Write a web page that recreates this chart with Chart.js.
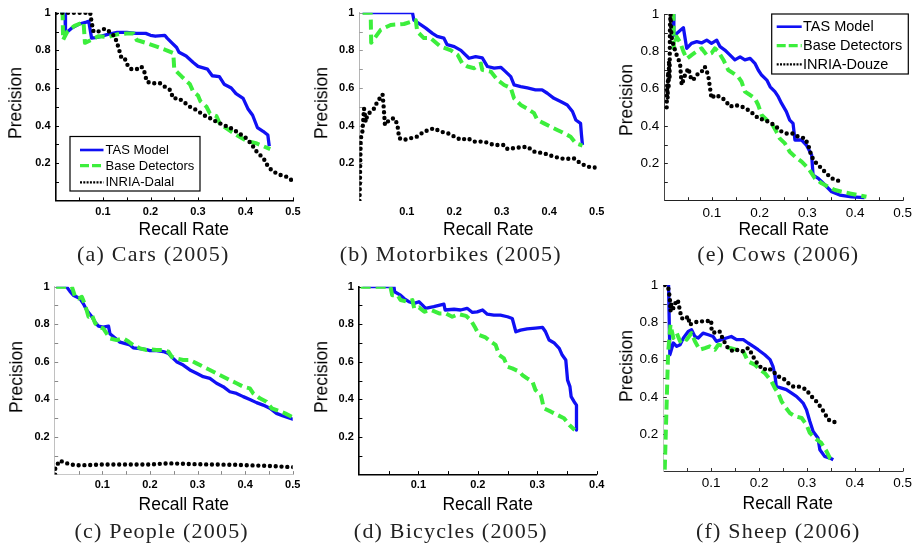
<!DOCTYPE html>
<html><head><meta charset="utf-8">
<script src="https://cdn.jsdelivr.net/npm/chart.js@4.4.1/dist/chart.umd.min.js"></script>
<style>
html,body{margin:0;padding:0;background:#fff;}
#wrap{position:relative;width:914px;height:549px;overflow:hidden;background:#fff;}
canvas{position:absolute;}
.t{position:absolute;white-space:nowrap;transform:translate(-50%,-50%);font-family:"Liberation Sans",Arial,sans-serif;font-size:17.5px;color:#000;line-height:1;}
.yt{transform:translate(-50%,-50%) rotate(-90deg);}
.cap{position:absolute;white-space:nowrap;transform:translate(-50%,-50%);font-family:"Liberation Serif","Times New Roman",serif;font-size:22px;color:#222;letter-spacing:1.2px;line-height:1;}
</style></head><body><div id="wrap"></div>
<script>
// ---------- data (recall, precision) ----------
const seriesNames2005 = ['TAS Model','Base Detectors','INRIA-Dalal'];
const seriesNames2006 = ['TAS Model','Base Detectors','INRIA-Douze'];
const captions = ['(a) Cars (2005)','(b) Motorbikes (2005)','(e) Cows (2006)','(c) People (2005)','(d) Bicycles (2005)','(f) Sheep (2006)'];
const xTitle = 'Recall Rate';
const yTitle = 'Precision';

const carsTAS = [[0.01,1],[0.02,1],[0.021,0.89],[0.035,0.92],[0.05,0.94],[0.065,0.95],[0.07,0.955],[0.076,0.865],[0.09,0.87],[0.11,0.885],[0.13,0.895],[0.15,0.895],[0.17,0.89],[0.19,0.89],[0.2,0.88],[0.21,0.875],[0.23,0.88],[0.235,0.865],[0.245,0.84],[0.255,0.815],[0.26,0.79],[0.275,0.77],[0.29,0.735],[0.3,0.715],[0.32,0.70],[0.33,0.665],[0.345,0.66],[0.355,0.62],[0.37,0.60],[0.38,0.57],[0.395,0.545],[0.405,0.49],[0.415,0.455],[0.425,0.39],[0.437,0.37],[0.447,0.35],[0.45,0.29]];
const carsBase = [[0.01,1],[0.015,1],[0.016,0.855],[0.025,0.9],[0.04,0.93],[0.059,0.95],[0.062,0.84],[0.075,0.855],[0.09,0.875],[0.11,0.87],[0.13,0.885],[0.15,0.89],[0.164,0.89],[0.171,0.855],[0.19,0.84],[0.213,0.82],[0.234,0.80],[0.248,0.785],[0.25,0.70],[0.266,0.66],[0.283,0.62],[0.29,0.58],[0.3,0.56],[0.305,0.53],[0.318,0.50],[0.325,0.465],[0.339,0.45],[0.346,0.41],[0.36,0.385],[0.381,0.35],[0.402,0.32],[0.424,0.305],[0.452,0.275]];
const carsDalal = [[0.002,1],[0.073,1],[0.076,0.95],[0.08,0.90],[0.09,0.90],[0.104,0.915],[0.115,0.897],[0.125,0.873],[0.132,0.82],[0.139,0.758],[0.146,0.755],[0.153,0.714],[0.16,0.70],[0.171,0.70],[0.181,0.714],[0.188,0.68],[0.192,0.634],[0.203,0.625],[0.22,0.625],[0.23,0.607],[0.241,0.59],[0.248,0.545],[0.259,0.545],[0.269,0.528],[0.283,0.50],[0.297,0.483],[0.311,0.457],[0.325,0.44],[0.339,0.42],[0.353,0.404],[0.367,0.39],[0.381,0.368],[0.392,0.35],[0.402,0.333],[0.413,0.30],[0.424,0.26],[0.438,0.226],[0.448,0.18],[0.459,0.155],[0.473,0.138],[0.487,0.128],[0.497,0.11]];

const motoTAS = [[0.007,1],[0.112,1],[0.115,0.96],[0.13,0.935],[0.14,0.918],[0.154,0.89],[0.164,0.874],[0.178,0.865],[0.185,0.83],[0.2,0.82],[0.214,0.80],[0.231,0.758],[0.245,0.767],[0.259,0.76],[0.27,0.714],[0.284,0.705],[0.298,0.71],[0.308,0.687],[0.319,0.66],[0.326,0.616],[0.34,0.607],[0.354,0.60],[0.371,0.59],[0.385,0.59],[0.396,0.572],[0.41,0.545],[0.424,0.528],[0.438,0.51],[0.449,0.475],[0.456,0.43],[0.466,0.412],[0.468,0.35],[0.47,0.297]];
const motoBase = [[0.007,1],[0.024,1],[0.025,0.84],[0.045,0.909],[0.066,0.935],[0.094,0.94],[0.119,0.96],[0.122,0.9],[0.136,0.865],[0.15,0.865],[0.171,0.82],[0.193,0.80],[0.207,0.776],[0.217,0.73],[0.228,0.714],[0.242,0.705],[0.256,0.73],[0.259,0.696],[0.277,0.687],[0.291,0.643],[0.305,0.616],[0.319,0.60],[0.326,0.545],[0.34,0.51],[0.354,0.49],[0.368,0.466],[0.375,0.43],[0.389,0.412],[0.403,0.394],[0.417,0.377],[0.431,0.36],[0.445,0.341],[0.456,0.306],[0.47,0.294]];
const motoDalal = [[0.0005,0],[0.002,0.2],[0.003,0.33],[0.0066,0.37],[0.01,0.49],[0.0136,0.42],[0.017,0.457],[0.024,0.474],[0.031,0.49],[0.038,0.527],[0.049,0.566],[0.051,0.51],[0.054,0.404],[0.063,0.43],[0.073,0.44],[0.08,0.41],[0.084,0.333],[0.094,0.324],[0.108,0.333],[0.122,0.342],[0.136,0.368],[0.157,0.386],[0.171,0.368],[0.186,0.36],[0.2,0.342],[0.214,0.324],[0.228,0.333],[0.242,0.315],[0.263,0.315],[0.284,0.297],[0.305,0.297],[0.312,0.276],[0.333,0.283],[0.354,0.288],[0.368,0.262],[0.389,0.253],[0.41,0.235],[0.431,0.223],[0.452,0.226],[0.466,0.2],[0.48,0.182],[0.498,0.177]];

const cowsTAS = [[0.012,1],[0.019,1],[0.02,0.887],[0.026,0.895],[0.04,0.927],[0.047,0.816],[0.057,0.843],[0.068,0.852],[0.078,0.845],[0.089,0.86],[0.099,0.843],[0.11,0.86],[0.117,0.825],[0.127,0.807],[0.138,0.78],[0.148,0.754],[0.159,0.77],[0.169,0.754],[0.18,0.762],[0.19,0.736],[0.197,0.70],[0.204,0.673],[0.215,0.646],[0.222,0.61],[0.232,0.584],[0.239,0.557],[0.246,0.521],[0.256,0.477],[0.263,0.432],[0.27,0.414],[0.274,0.325],[0.288,0.325],[0.298,0.298],[0.309,0.245],[0.312,0.1375],[0.323,0.12],[0.337,0.084],[0.351,0.048],[0.368,0.03],[0.393,0.021],[0.42,0.016]];
const cowsBase = [[0.012,1],[0.019,1],[0.02,0.816],[0.026,0.878],[0.033,0.85],[0.04,0.80],[0.047,0.76],[0.057,0.78],[0.068,0.80],[0.078,0.816],[0.089,0.78],[0.099,0.79],[0.106,0.816],[0.113,0.80],[0.124,0.754],[0.134,0.70],[0.145,0.682],[0.155,0.664],[0.162,0.6375],[0.169,0.584],[0.18,0.566],[0.19,0.548],[0.197,0.5125],[0.204,0.459],[0.215,0.432],[0.225,0.414],[0.235,0.37],[0.242,0.334],[0.253,0.307],[0.263,0.2625],[0.274,0.236],[0.288,0.209],[0.302,0.173],[0.316,0.12],[0.33,0.093],[0.344,0.075],[0.358,0.057],[0.372,0.048],[0.389,0.039],[0.406,0.03],[0.424,0.021]];
const cowsDouze = [[0.005,0.5],[0.006,0.62],[0.007,0.55],[0.008,0.69],[0.009,0.6],[0.01,0.75],[0.011,0.65],[0.012,0.94],[0.013,1.0],[0.015,0.88],[0.019,0.834],[0.026,0.78],[0.033,0.736],[0.0365,0.62],[0.0435,0.673],[0.0505,0.709],[0.057,0.646],[0.064,0.655],[0.071,0.682],[0.078,0.69],[0.085,0.718],[0.092,0.673],[0.096,0.602],[0.099,0.548],[0.106,0.566],[0.117,0.557],[0.127,0.539],[0.138,0.504],[0.148,0.5125],[0.162,0.505],[0.176,0.486],[0.19,0.459],[0.197,0.441],[0.211,0.432],[0.225,0.414],[0.235,0.396],[0.246,0.37],[0.256,0.36],[0.27,0.36],[0.281,0.343],[0.295,0.334],[0.302,0.298],[0.309,0.236],[0.319,0.2],[0.33,0.173],[0.34,0.146],[0.351,0.12],[0.365,0.107]];

const peopleTAS = [[0.003,1],[0.025,1],[0.032,0.975],[0.039,0.955],[0.053,0.937],[0.06,0.91],[0.067,0.876],[0.078,0.84],[0.085,0.81],[0.092,0.79],[0.102,0.785],[0.113,0.79],[0.116,0.75],[0.13,0.72],[0.137,0.705],[0.158,0.69],[0.165,0.675],[0.179,0.67],[0.193,0.665],[0.2,0.66],[0.214,0.66],[0.228,0.655],[0.239,0.645],[0.246,0.625],[0.256,0.601],[0.27,0.583],[0.284,0.557],[0.298,0.539],[0.312,0.521],[0.326,0.512],[0.34,0.486],[0.354,0.468],[0.368,0.441],[0.382,0.432],[0.396,0.415],[0.41,0.40],[0.424,0.383],[0.438,0.37],[0.452,0.353],[0.466,0.326],[0.48,0.312],[0.494,0.30],[0.502,0.294]];
const peopleBase = [[0.003,1],[0.036,1],[0.043,0.946],[0.05,0.937],[0.057,0.946],[0.064,0.902],[0.071,0.84],[0.078,0.85],[0.085,0.805],[0.092,0.787],[0.102,0.778],[0.109,0.752],[0.116,0.725],[0.13,0.716],[0.144,0.725],[0.155,0.708],[0.165,0.69],[0.179,0.672],[0.193,0.663],[0.2,0.667],[0.214,0.663],[0.228,0.663],[0.239,0.654],[0.246,0.627],[0.256,0.618],[0.27,0.61],[0.284,0.61],[0.298,0.592],[0.312,0.574],[0.326,0.557],[0.34,0.539],[0.354,0.521],[0.368,0.503],[0.382,0.486],[0.396,0.468],[0.41,0.459],[0.417,0.432],[0.431,0.406],[0.445,0.388],[0.456,0.353],[0.47,0.34],[0.484,0.326],[0.498,0.308],[0.502,0.305]];
const peopleDalal = [[0.001,0.0],[0.001,0.03],[0.003,0.04],[0.007,0.06],[0.011,0.075],[0.015,0.07],[0.021,0.064],[0.032,0.055],[0.046,0.05],[0.06,0.05],[0.1,0.054],[0.2,0.054],[0.24,0.06],[0.3,0.055],[0.38,0.052],[0.45,0.046],[0.505,0.039]];

const bikesTAS = [[0.006,1],[0.059,1],[0.06,0.973],[0.07,0.955],[0.076,0.937],[0.084,0.92],[0.093,0.911],[0.101,0.92],[0.107,0.902],[0.112,0.885],[0.126,0.894],[0.143,0.907],[0.145,0.876],[0.16,0.88],[0.171,0.876],[0.182,0.885],[0.191,0.863],[0.199,0.866],[0.208,0.876],[0.216,0.854],[0.227,0.849],[0.238,0.849],[0.25,0.84],[0.258,0.831],[0.264,0.76],[0.272,0.769],[0.283,0.776],[0.297,0.78],[0.309,0.783],[0.314,0.76],[0.32,0.716],[0.328,0.702],[0.337,0.672],[0.342,0.636],[0.348,0.61],[0.351,0.503],[0.355,0.468],[0.357,0.415],[0.362,0.388],[0.366,0.37],[0.366,0.237]];
const bikesBase = [[0.003,1],[0.053,1],[0.056,0.955],[0.065,0.955],[0.07,0.929],[0.081,0.92],[0.09,0.929],[0.093,0.885],[0.101,0.89],[0.11,0.867],[0.121,0.876],[0.135,0.858],[0.146,0.858],[0.157,0.84],[0.168,0.854],[0.18,0.845],[0.188,0.823],[0.196,0.78],[0.202,0.743],[0.213,0.73],[0.222,0.707],[0.23,0.69],[0.236,0.636],[0.244,0.618],[0.25,0.574],[0.258,0.565],[0.27,0.548],[0.275,0.53],[0.283,0.512],[0.292,0.494],[0.297,0.45],[0.306,0.424],[0.308,0.397],[0.311,0.353],[0.323,0.335],[0.334,0.317],[0.345,0.30],[0.354,0.264],[0.363,0.237]];

const sheepTAS = [[0.011,1],[0.0137,0.626],[0.021,0.689],[0.028,0.671],[0.035,0.68],[0.042,0.716],[0.052,0.751],[0.059,0.76],[0.066,0.724],[0.073,0.716],[0.083,0.742],[0.094,0.733],[0.104,0.724],[0.111,0.698],[0.121,0.707],[0.132,0.716],[0.142,0.724],[0.153,0.707],[0.167,0.707],[0.177,0.689],[0.188,0.671],[0.198,0.653],[0.212,0.626],[0.223,0.60],[0.229,0.564],[0.233,0.519],[0.236,0.456],[0.247,0.447],[0.257,0.439],[0.268,0.42],[0.278,0.403],[0.285,0.385],[0.292,0.367],[0.299,0.331],[0.306,0.269],[0.313,0.215],[0.323,0.18],[0.327,0.117],[0.337,0.081],[0.348,0.072],[0.355,0.063]];
const sheepBase = [[0.003,0.01],[0.01,0.635],[0.015,0.787],[0.021,0.716],[0.028,0.742],[0.035,0.698],[0.042,0.716],[0.049,0.707],[0.059,0.742],[0.066,0.698],[0.076,0.653],[0.087,0.662],[0.097,0.671],[0.108,0.653],[0.115,0.68],[0.128,0.671],[0.139,0.662],[0.153,0.653],[0.167,0.644],[0.177,0.59],[0.191,0.573],[0.202,0.546],[0.212,0.528],[0.226,0.483],[0.233,0.447],[0.24,0.42],[0.247,0.376],[0.254,0.349],[0.264,0.314],[0.275,0.296],[0.289,0.287],[0.299,0.251],[0.306,0.207],[0.316,0.18],[0.33,0.153],[0.341,0.108],[0.348,0.072],[0.353,0.063]];
const sheepDouze = [[0.003,1],[0.01,0.99],[0.0137,0.93],[0.015,0.86],[0.017,0.9],[0.021,0.875],[0.028,0.92],[0.031,0.91],[0.035,0.86],[0.038,0.823],[0.045,0.815],[0.052,0.832],[0.055,0.787],[0.062,0.796],[0.073,0.805],[0.087,0.805],[0.1,0.81],[0.101,0.75],[0.111,0.742],[0.118,0.75],[0.125,0.707],[0.135,0.662],[0.146,0.644],[0.156,0.653],[0.167,0.644],[0.177,0.662],[0.184,0.635],[0.191,0.60],[0.198,0.573],[0.209,0.546],[0.219,0.555],[0.229,0.537],[0.24,0.51],[0.25,0.501],[0.261,0.474],[0.271,0.456],[0.282,0.456],[0.292,0.447],[0.299,0.439],[0.306,0.412],[0.313,0.394],[0.323,0.367],[0.33,0.34],[0.337,0.314],[0.344,0.278],[0.355,0.269],[0.363,0.256]];

// ---------- styling ----------
const BLUE = '#1010f4', GREEN = '#3cee3c', BLACK = '#000';
const SANS = '"Liberation Sans", Arial, sans-serif';

function mkDs(arr, kind){
  const d = {data: arr.map(p => ({x:p[0], y:p[1]})), showLine:true, pointRadius:0, pointHoverRadius:0, fill:false, tension:0, borderJoinStyle:'round'};
  if (kind === 'tas') Object.assign(d, {borderColor:BLUE, borderWidth:3.3, order:2});
  if (kind === 'base') Object.assign(d, {borderColor:GREEN, borderWidth:4, borderDash:[10,5], order:1});
  if (kind === 'inria') Object.assign(d, {borderColor:BLACK, borderWidth:4.4, borderDash:[0,5.8], borderCapStyle:'round', order:0});
  return d;
}

const inTicks = {
  id:'inTicks',
  beforeDatasetsDraw(chart, args, o){
    const {ctx, chartArea:a, scales:{x, y}} = chart;
    ctx.save(); ctx.lineWidth = 1;
    if (o.xColor){
      ctx.strokeStyle = o.xColor; ctx.beginPath();
      x.ticks.forEach(t => { if (t.value <= 1e-9) return; const px = Math.round(x.getPixelForValue(t.value)) + 0.5; ctx.moveTo(px, a.bottom); ctx.lineTo(px, a.bottom - 3.5); });
      ctx.stroke();
    }
    if (o.yColor){
      ctx.strokeStyle = o.yColor; ctx.beginPath();
      y.ticks.forEach(t => { if (t.value <= 1e-9) return; const py = Math.round(y.getPixelForValue(t.value)) + 0.5; ctx.moveTo(a.left, py); ctx.lineTo(a.left + 3.5, py); });
      ctx.stroke();
    }
    ctx.restore();
  }
};

const boxLegend = {
  id:'boxLegend',
  afterDraw(chart, args, o){
    if (!o || !o.box) return;
    const ctx = chart.ctx, [l, t, r, b] = o.box;
    ctx.save();
    ctx.fillStyle = '#fff'; ctx.fillRect(l, t, r - l, b - t);
    ctx.strokeStyle = '#000'; ctx.lineWidth = 1.2; ctx.strokeRect(l, t, r - l, b - t);
    o.names.forEach((nm, i) => {
      const yy = o.rows[i];
      ctx.beginPath(); ctx.moveTo(o.x0, yy); ctx.lineTo(o.x1, yy);
      if (i === 0){ ctx.setLineDash([]); ctx.strokeStyle = BLUE; ctx.lineWidth = 2.6; ctx.lineCap = 'butt'; }
      if (i === 1){ ctx.setLineDash([9,3]); ctx.strokeStyle = GREEN; ctx.lineWidth = 3.2; ctx.lineCap = 'butt'; }
      if (i === 2){ ctx.setLineDash([2,1.3]); ctx.strokeStyle = BLACK; ctx.lineWidth = 2.2; ctx.lineCap = 'butt'; }
      ctx.stroke();
      ctx.setLineDash([]);
      ctx.fillStyle = '#000'; ctx.font = o.font; ctx.textBaseline = 'middle'; ctx.textAlign = 'left';
      ctx.fillText(nm, o.tx, yy + 0.5);
    });
    ctx.restore();
  }
};

const panels = [
  {area:[55.5,12.7,293,200.9], canvas:[0,0,305,240], xmax:0.5, bold:true,
   sets:[[carsDalal,'inria'],[carsBase,'base'],[carsTAS,'tas']],
   axis:{x:'#000', y:'#000', w:1.6, tick:'#000'},
   legend:{box:[70,136.5,200,191], rows:[150,165.7,182.3], x0:80, x1:103.5, tx:105.5, font:'13px '+SANS, names:seriesNames2005},
   yt:[16.3,103], xt:[183.8,229.8], cap:[captions[0],153.3,254]},
  {area:[359.3,12.7,596.7,200.9], canvas:[305,0,305,240], xmax:0.5, bold:true,
   sets:[[motoDalal,'inria'],[motoBase,'base'],[motoTAS,'tas']],
   axis:{x:null, y:'#b5b5b5', w:1, tick:'#999'},
   yt:[321.7,103], xt:[488.3,229.8], cap:[captions[1],450.8,254]},
  {area:[664.3,14,902.7,200.7], canvas:[610,0,304,240], xmax:0.5, bold:false,
   sets:[[cowsDouze,'inria'],[cowsBase,'base'],[cowsTAS,'tas']],
   axis:{x:'#222', y:'#444', w:1, tick:'#222'},
   legend:{box:[771.7,14,908.3,74], rows:[26.7,45.7,64.3], x0:776.7, x1:801.7, tx:803, font:'14.5px '+SANS, names:seriesNames2006},
   yt:[626.7,100], xt:[783.7,230], cap:[captions[2],778.3,254]},
  {area:[54.7,286.7,292.7,474.6], canvas:[0,270,305,235], xmax:0.5, bold:true,
   sets:[[peopleDalal,'inria'],[peopleBase,'base'],[peopleTAS,'tas']],
   axis:{x:'#c8c8c8', y:'#c0c0c0', w:1, tick:'#888'},
   yt:[17,376.7], xt:[183.8,504.7], cap:[captions[3],161.7,530.5]},
  {area:[358.9,286.7,596.7,474.6], canvas:[305,270,305,235], xmax:0.4, bold:true,
   sets:[[bikesBase,'base'],[bikesTAS,'tas']],
   axis:{x:'#000', y:'#000', w:1.6, tick:'#000'},
   yt:[321.5,376.7], xt:[487.7,504.7], cap:[captions[4],450.8,530.5]},
  {area:[663.3,285,902.7,471.5], canvas:[610,270,304,235], xmax:0.5, bold:false,
   sets:[[sheepDouze,'inria'],[sheepBase,'base'],[sheepTAS,'tas']],
   axis:{x:'#333', y:'#c8c8c8', w:1, tick:'#333'},
   yt:[626.7,365.5], xt:[787.8,503.8], cap:[captions[5],778.3,530.5]}
];

const wrap = document.getElementById('wrap');
const YW = 40, XH = 22;

panels.forEach(p => {
  const [cx, cy, cw, ch] = p.canvas;
  const [L, T, R, B] = p.area;
  const cv = document.createElement('canvas');
  cv.width = cw; cv.height = ch;
  cv.style.left = cx + 'px'; cv.style.top = cy + 'px';
  cv.style.width = cw + 'px'; cv.style.height = ch + 'px';
  wrap.appendChild(cv);

  const tickFont = p.bold ? {family:SANS, size:11, weight:'bold'} : {family:SANS, size:13.5, weight:'normal'};
  let legOpts = {};
  if (p.legend){
    const g = p.legend;
    legOpts = {box:[g.box[0]-cx, g.box[1]-cy, g.box[2]-cx, g.box[3]-cy], rows:g.rows.map(v => v - cy),
      x0:g.x0 - cx, x1:g.x1 - cx, tx:g.tx - cx, font:g.font, names:g.names};
  }

  new Chart(cv, {
    type:'scatter',
    data:{datasets:p.sets.map(s => mkDs(s[0], s[1]))},
    options:{
      responsive:false, animation:false, events:[], devicePixelRatio:1,
      layout:{padding:{left:L - cx - YW, top:T - cy, right:(cx + cw) - R, bottom:(cy + ch) - B - XH}},
      plugins:{legend:{display:false}, tooltip:{enabled:false},
        inTicks:{xColor:p.axis.x ? p.axis.tick : null, yColor:p.axis.tick},
        boxLegend:legOpts},
      scales:{
        x:{type:'linear', min:0, max:p.xmax,
           afterFit(s){ s.height = XH; s.paddingLeft = 0; s.paddingRight = 0; },
           grid:{display:true, drawOnChartArea:false, drawTicks:false},
           border:{display:!!p.axis.x, color:p.axis.x || '#fff', width:p.axis.w},
           ticks:{stepSize:0.05, autoSkip:false, maxRotation:0, padding:4, color:'#000', font:tickFont,
             callback(v){ const k = Math.round(v * 20); return (k > 0 && k % 2 === 0) ? (k / 20).toFixed(1) : ''; }}},
        y:{type:'linear', min:0, max:1,
           afterFit(s){ s.width = YW; s.paddingTop = 0; s.paddingBottom = 0; },
           grid:{display:true, drawOnChartArea:false, drawTicks:false},
           border:{display:true, color:p.axis.y, width:p.axis.w},
           ticks:{stepSize:0.1, autoSkip:false, padding:5, color:'#000', font:tickFont,
             callback(v){ const k = Math.round(v * 10); if (k <= 0 || k % 2) return ''; return k === 10 ? '1' : (k / 10).toFixed(1); }}}
      }
    },
    plugins:[inTicks, boxLegend]
  });

  const yt = document.createElement('div'); yt.className = 't yt'; yt.textContent = yTitle;
  yt.style.left = p.yt[0] + 'px'; yt.style.top = p.yt[1] + 'px'; wrap.appendChild(yt);
  const xt = document.createElement('div'); xt.className = 't'; xt.textContent = xTitle;
  xt.style.left = p.xt[0] + 'px'; xt.style.top = p.xt[1] + 'px'; wrap.appendChild(xt);
  const cp = document.createElement('div'); cp.className = 'cap'; cp.textContent = p.cap[0];
  cp.style.left = p.cap[1] + 'px'; cp.style.top = p.cap[2] + 'px'; wrap.appendChild(cp);
});
</script></body></html>
